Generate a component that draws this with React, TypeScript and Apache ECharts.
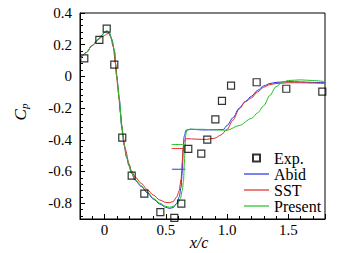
import React, { useEffect, useRef } from "react";
import * as echarts from "echarts";

const FONT = "Liberation Serif";

// Experimental data
const expX = [-0.165, -0.042, 0.018, 0.08, 0.145, 0.222, 0.325, 0.456, 0.57, 0.627, 0.684, 0.79, 0.839, 0.905, 0.959, 1.033, 1.242, 1.484, 1.778];
const expY = [0.114, 0.23, 0.301, 0.074, -0.387, -0.626, -0.74, -0.856, -0.893, -0.803, -0.458, -0.488, -0.399, -0.271, -0.155, -0.058, -0.037, -0.078, -0.096];

// Abid
const abidX = [-0.2, -0.15, -0.1, -0.05, -0.02, 0.0, 0.02, 0.04, 0.06, 0.08, 0.1, 0.12, 0.14, 0.16, 0.18, 0.2, 0.22, 0.25, 0.3, 0.35, 0.4, 0.45, 0.5, 0.53, 0.56, 0.59, 0.61, 0.625, 0.635, 0.642, 0.65, 0.665, 0.7, 0.8, 0.9, 0.97, 1.0, 1.05, 1.1, 1.15, 1.2, 1.25, 1.3, 1.35, 1.4, 1.5, 1.6, 1.7, 1.8];
const abidY = [0.11, 0.15, 0.195, 0.235, 0.26, 0.278, 0.287, 0.273, 0.233, 0.165, 0.0, -0.14, -0.31, -0.435, -0.51, -0.565, -0.61, -0.655, -0.695, -0.735, -0.775, -0.805, -0.826, -0.833, -0.828, -0.8, -0.76, -0.7, -0.6, -0.48, -0.38, -0.34, -0.333, -0.338, -0.337, -0.335, -0.31, -0.26, -0.2, -0.158, -0.125, -0.088, -0.06, -0.045, -0.038, -0.033, -0.035, -0.038, -0.04];
const abidSegX = [0.55, 0.66];
const abidSegY = [-0.586, -0.586];

// SST
const sstX = [-0.2, -0.15, -0.1, -0.05, -0.02, 0.0, 0.02, 0.035, 0.05, 0.07, 0.09, 0.11, 0.13, 0.15, 0.17, 0.2, 0.22, 0.25, 0.3, 0.35, 0.4, 0.45, 0.5, 0.53, 0.56, 0.59, 0.61, 0.625, 0.635, 0.641, 0.65, 0.67, 0.75, 0.83, 0.9, 0.95, 1.0, 1.05, 1.1, 1.15, 1.2, 1.25, 1.3, 1.35, 1.4, 1.5, 1.6, 1.7, 1.8];
const sstY = [0.11, 0.15, 0.195, 0.232, 0.25, 0.258, 0.268, 0.27, 0.25, 0.19, 0.08, -0.07, -0.23, -0.37, -0.46, -0.55, -0.595, -0.635, -0.675, -0.715, -0.75, -0.78, -0.795, -0.797, -0.79, -0.76, -0.72, -0.65, -0.54, -0.45, -0.405, -0.393, -0.396, -0.398, -0.39, -0.37, -0.335, -0.275, -0.205, -0.16, -0.135, -0.098, -0.068, -0.052, -0.045, -0.04, -0.04, -0.042, -0.045];
const sstSegX = [0.548, 0.643];
const sstSegY = [-0.455, -0.455];

// Present
const presX = [-0.2, -0.15, -0.1, -0.05, -0.02, 0.0, 0.02, 0.04, 0.06, 0.08, 0.1, 0.12, 0.14, 0.16, 0.18, 0.2, 0.22, 0.25, 0.3, 0.35, 0.4, 0.45, 0.5, 0.53, 0.56, 0.6, 0.62, 0.635, 0.645, 0.652, 0.658, 0.663, 0.672, 0.7, 0.8, 0.9, 1.0, 1.1, 1.2, 1.25, 1.3, 1.35, 1.4, 1.45, 1.5, 1.6, 1.7, 1.8];
const presY = [0.11, 0.15, 0.195, 0.235, 0.262, 0.28, 0.289, 0.275, 0.235, 0.167, 0.0, -0.14, -0.31, -0.43, -0.505, -0.56, -0.61, -0.65, -0.69, -0.73, -0.77, -0.8, -0.82, -0.826, -0.82, -0.8, -0.77, -0.72, -0.66, -0.55, -0.45, -0.37, -0.34, -0.334, -0.334, -0.337, -0.34, -0.31, -0.265, -0.23, -0.185, -0.12, -0.065, -0.038, -0.026, -0.022, -0.026, -0.033];
const presSegX = [0.548, 0.655];
const presSegY = [-0.43, -0.43];

const legendNames = ["Exp.", "Abid", "SST", "Present"];

const BLUE = "#2233e6";
const RED = "#e02828";
const GREEN = "#22c022";

const zip = (xs: number[], ys: number[]) => xs.map((x, i) => [x, ys[i]]);
const fmt = (v: number) => (v === 0 ? "0" : v.toFixed(1));

const LINE_ICON = "path://M0,0H25V1.2H0Z";

export default function App() {
  const ref = useRef<HTMLDivElement>(null);
  useEffect(() => {
    if (!ref.current) return;
    const chart = echarts.init(ref.current, undefined, { renderer: "svg" });
    const axisCommon = {
      type: "value" as const,
      axisLine: { show: true, onZero: false, lineStyle: { color: "#000", width: 1 } },
      axisTick: { show: true, inside: true, length: 5, lineStyle: { color: "#000" } },
      minorTick: { show: true, splitNumber: 5, length: 3, lineStyle: { color: "#000" } },
      splitLine: { show: false },
      minorSplitLine: { show: false },
    };
    const lineSeries = (name: string, data: number[][], color: string) => ({
      name,
      type: "line",
      data,
      symbol: "none",
      smooth: 0.3,
      smoothMonotone: "x",
      lineStyle: { color, width: 1 },
      itemStyle: { color },
    });
    chart.setOption({
      animation: false,
      textStyle: { fontFamily: FONT },
      grid: { left: 80, top: 13, right: 34, bottom: 34, show: true, borderColor: "#000", borderWidth: 1 },
      xAxis: {
        ...axisCommon,
        min: -0.2,
        max: 1.8,
        splitNumber: 4,
        axisLabel: { showMinLabel: false, showMaxLabel: false, color: "#000", fontFamily: FONT, fontSize: 15, margin: 3, formatter: fmt },
      },
      yAxis: {
        ...axisCommon,
        min: -0.9,
        max: 0.4,
        splitNumber: 6,
        axisLabel: { showMinLabel: false, showMaxLabel: true, color: "#000", fontFamily: FONT, fontSize: 15, margin: 8, formatter: fmt },
      },
      legend: {
        orient: "vertical",
        left: 244,
        top: 150,
        padding: 0,
        itemWidth: 25,
        itemHeight: 7,
        itemGap: 0,
        symbolKeepAspect: true,
        textStyle: { fontFamily: FONT, fontSize: 16, color: "#000", lineHeight: 16 },
        data: [
          { name: legendNames[0], icon: "path://M0,0H10V10H0Z" },
          { name: legendNames[1], icon: LINE_ICON },
          { name: legendNames[2], icon: LINE_ICON },
          { name: legendNames[3], icon: LINE_ICON },
        ],
      },
      graphic: [
        {
          type: "text",
          x: 20,
          y: 112,
          rotation: Math.PI / 2,
          style: {
            text: "{c|C}{p|p}",
            font: "italic 17px Liberation Serif",
            align: "center",
            verticalAlign: "middle",
            rich: {
              c: { fontFamily: FONT, fontSize: 17, fontStyle: "italic", fill: "#000", lineHeight: 18 },
              p: { fontFamily: FONT, fontSize: 11, fontStyle: "italic", fill: "#000", verticalAlign: "bottom", lineHeight: 10 },
            },
          },
        },
        {
          type: "text",
          x: 199,
          y: 242,
          style: { text: "x/c", font: "italic 16px Liberation Serif", fill: "#000", align: "center", verticalAlign: "middle" },
        },
      ],
      series: [
        lineSeries("Abid", zip(abidX, abidY), BLUE),
        lineSeries("Abid-seg", zip(abidSegX, abidSegY), BLUE),
        lineSeries("SST", zip(sstX, sstY), RED),
        lineSeries("SST-seg", zip(sstSegX, sstSegY), RED),
        lineSeries("Present", zip(presX, presY), GREEN),
        lineSeries("Present-seg", zip(presSegX, presSegY), GREEN),
        {
          name: "Exp.",
          type: "scatter",
          data: zip(expX, expY),
          symbol: "rect",
          symbolSize: 7,
          z: 5,
          itemStyle: { color: "transparent", borderColor: "#000", borderWidth: 1.2 },
        },
      ],
    });
    return () => chart.dispose();
  }, []);
  return <div ref={ref} style={{ width: 359, height: 253, position: "absolute", left: 0, top: 0 }} />;
}
